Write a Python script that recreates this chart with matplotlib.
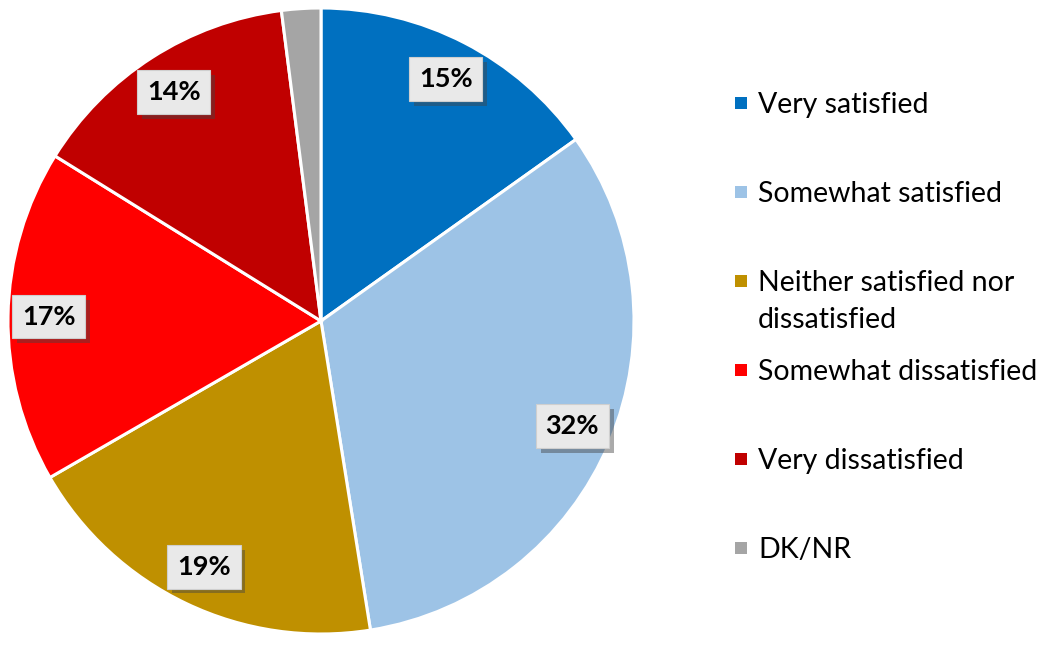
import numpy as np
import matplotlib.pyplot as plt
import matplotlib.patheffects as pe
from matplotlib.patches import Rectangle

plt.rcParams['font.family'] = ['Lato', 'DejaVu Sans']

# Data
categories = ['Very satisfied', 'Somewhat satisfied', 'Neither satisfied nor\ndissatisfied',
              'Somewhat dissatisfied', 'Very dissatisfied', 'DK/NR']
values = [15, 32, 19, 17, 14, 2]
value_labels = ['15%', '32%', '19%', '17%', '14%', '']
colors = ['#0070c0', '#9dc3e6', '#bf9000', '#ff0000', '#c00000', '#a5a5a5']

W, H = 1059, 647
fig = plt.figure(figsize=(W / 100, H / 100), dpi=100)
fig.patch.set_facecolor('white')

# pie axes: centre (321, 321) px, radius ~313 px
cx, cy, r = 321, 321, 313
ax = fig.add_axes([(cx - r) / W, (H - cy - r) / H, 2 * r / W, 2 * r / H])

wedges, _ = ax.pie(values, colors=colors, startangle=90, counterclock=False,
                   radius=1.0, wedgeprops=dict(edgecolor='white', linewidth=2.2))
ax.set_xlim(-1, 1)
ax.set_ylim(-1, 1)
ax.set_aspect('equal')
ax.axis('off')

# data labels in boxes with shadow
total = sum(values)
start = 90.0
for v, lab in zip(values, value_labels):
    sweep = 360.0 * v / total
    mid = np.deg2rad(start - sweep / 2)
    start -= sweep
    if not lab:
        continue
    x, y = 0.87 * np.cos(mid), 0.87 * np.sin(mid)
    t = ax.text(x, y, lab, ha='center', va='center', fontsize=19.5, fontweight='bold',
                color='black',
                bbox=dict(boxstyle='square,pad=0.36', facecolor='#e9e9e9',
                          edgecolor='#cfcfcf', linewidth=0.8))
    t.get_bbox_patch().set_path_effects([
        pe.SimplePatchShadow(offset=(3.5, -3.5), shadow_rgbFace='#444444', alpha=0.45),
        pe.Normal()])

# legend drawn manually (multi-line labels: one text per line, 37 px apart)
y0, step, line_h = 103, 89, 37
for i, (lab, c) in enumerate(zip(categories, colors)):
    ypx = y0 + step * i
    fig.patches.append(Rectangle((735 / W, (H - ypx - 6) / H), 12 / W, 12 / H,
                                 transform=fig.transFigure, facecolor=c, edgecolor='none'))
    for j, line in enumerate(lab.split('\n')):
        fig.text(758 / W, (H - ypx - 10 - j * line_h) / H, line, ha='left',
                 va='baseline', fontsize=20.5, color='black')

fig.savefig('out.png', dpi=100, facecolor='white')
